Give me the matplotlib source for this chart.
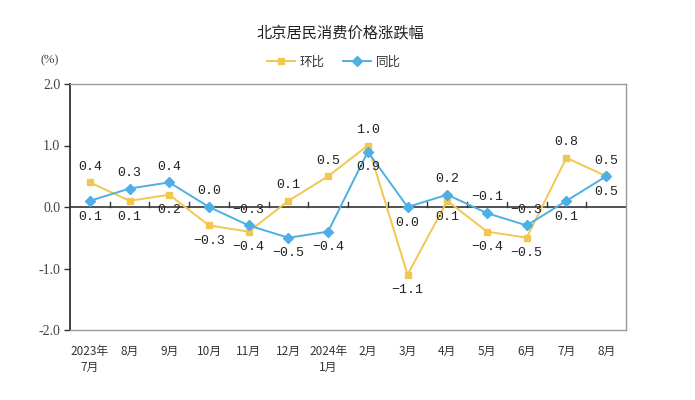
import matplotlib
matplotlib.use("Agg")
import matplotlib.pyplot as plt
import numpy as np

plt.rcParams['font.family'] = ['Noto Sans CJK SC', 'DejaVu Sans']

months = ["2023年\n7月", "8月", "9月", "10月", "11月", "12月", "2024年\n1月",
          "2月", "3月", "4月", "5月", "6月", "7月", "8月"]
mom = [0.4, 0.1, 0.2, -0.3, -0.4, 0.1, 0.5, 1.0, -1.1, 0.1, -0.4, -0.5, 0.8, 0.5]
yoy = [0.1, 0.3, 0.4, 0.0, -0.3, -0.5, -0.4, 0.9, 0.0, 0.2, -0.1, -0.3, 0.1, 0.5]
# label side for each point: 'a' above, 'b' below
mom_side = ['a', 'b', 'b', 'b', 'b', 'a', 'a', 'a', 'b', 'b', 'b', 'b', 'a', 'b']
yoy_side = ['b', 'a', 'a', 'a', 'a', 'b', 'b', 'b', 'b', 'a', 'a', 'a', 'b', 'a']

YELLOW = "#f1c74f"
BLUE = "#4eafe4"

fig = plt.figure(figsize=(6.95, 4.0), dpi=100)
ax = fig.add_axes([0.1007, 0.175, 0.8, 0.615])

x = np.arange(len(months))
ax.plot(x, mom, color=YELLOW, lw=1.4, marker='s', ms=4.5, label="环比", zorder=3)
ax.plot(x, yoy, color=BLUE, lw=1.4, marker='D', ms=5, label="同比", zorder=4)

for xs, vals, sides in [(x, mom, mom_side), (x, yoy, yoy_side)]:
    for xi, v, s in zip(xs, vals, sides):
        dy = 7 if s == 'a' else -7
        ax.annotate(f"{v:.1f}".replace("-", "\u2212"), (xi, v), xytext=(0, dy),
                    textcoords="offset points", ha="center",
                    va="bottom" if s == 'a' else "top",
                    fontsize=9.5, family=["Liberation Mono", "DejaVu Sans Mono"],
                    color="#222222", zorder=5)

ax.set_xlim(-0.5, len(months) - 0.5)
ax.set_ylim(-2.0, 2.0)
ax.set_yticks([-2.0, -1.0, 0.0, 1.0, 2.0])
ax.set_yticklabels(["-2.0", "-1.0", "0.0", "1.0", "2.0"],
                   family=["Liberation Serif"], fontsize=10, color="#444444")
ax.tick_params(axis='y', direction='out', length=4, width=1, color="#333333", pad=3)

# x-axis drawn at zero with boundary ticks
ax.axhline(0, color="#333333", lw=1.2, zorder=2)
for b in np.arange(-0.5, len(months), 1.0)[1:-1]:
    ax.plot([b, b], [0, 0.08], color="#333333", lw=1, zorder=2)

ax.set_xticks(x)
ax.set_xticklabels(months, fontsize=8.5, color="#333333", linespacing=1.25, va="top")
ax.tick_params(axis='x', length=0, pad=11)

for side in ["top", "right"]:
    ax.spines[side].set_color("#999999")
    ax.spines[side].set_linewidth(1)
ax.spines["left"].set_color("#333333")
ax.spines["left"].set_linewidth(1.3)
ax.spines["bottom"].set_color("#999999")
ax.spines["bottom"].set_linewidth(1)

fig.text(0.49, 0.915, "北京居民消费价格涨跌幅", ha="center", va="center",
         fontsize=11, color="#222222", fontweight="medium")
fig.text(0.072, 0.85, "(%)", ha="center", va="center", fontsize=9,
         family=["Liberation Serif"], color="#444444")
ax.legend(loc="center", bbox_to_anchor=(0.475, 1.09), ncol=2, frameon=False,
          fontsize=9, handlelength=2.2, columnspacing=1.5, handletextpad=0.4,
          labelcolor="#333333")

fig.savefig("out.png", dpi=100)
